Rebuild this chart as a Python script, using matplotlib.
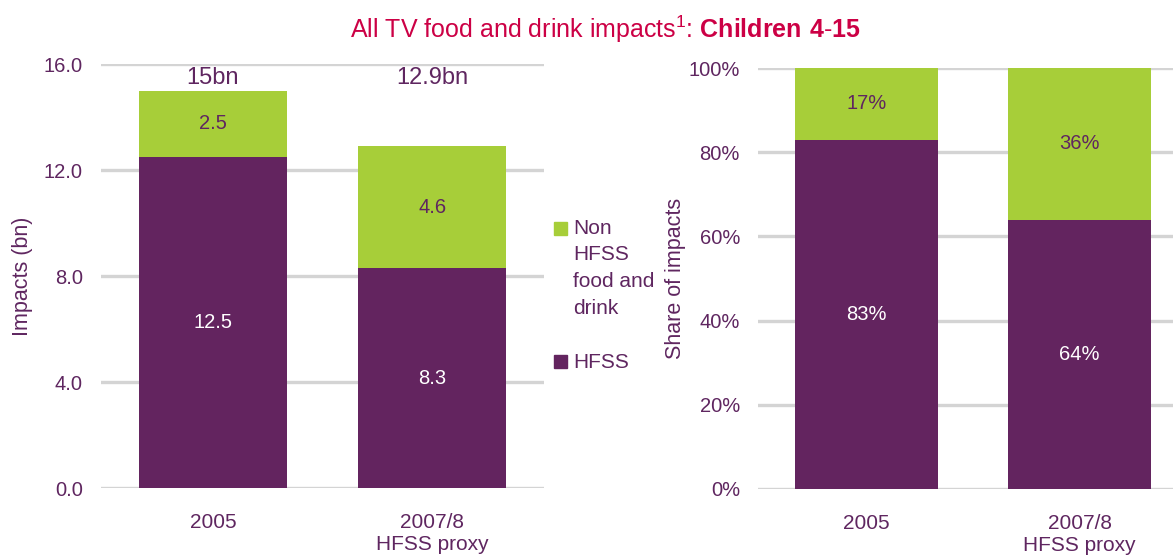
import matplotlib.pyplot as plt
from matplotlib.patches import Rectangle
import numpy as np

plt.rcParams['font.family'] = ['Liberation Sans', 'DejaVu Sans']
plt.rcParams['mathtext.fontset'] = 'custom'
plt.rcParams['mathtext.rm'] = 'Liberation Sans'
plt.rcParams['mathtext.bf'] = 'Liberation Sans:bold'

categories = ['2005', '2007/8\nHFSS proxy']
hfss = [12.5, 8.3]
non_hfss = [2.5, 4.6]
totals = ['15bn', '12.9bn']
share_hfss = [0.83, 0.64]
share_non = [0.17, 0.36]

purple = '#63245F'
green = '#A7CE39'
text_col = '#5F2660'
title_col = '#CC0045'
grid_col = '#D4D4D4'

fig = plt.figure(figsize=(11.73, 5.56), dpi=100)

W, H = 1173.0, 556.0
ax1 = fig.add_axes([101 / W, 1 - 488 / H, 443 / W, 424 / H])
ax2 = fig.add_axes([758 / W, 1 - 489 / H, 430 / W, 421 / H])

x = np.arange(len(categories))

# left: absolute impacts
ax1.bar(x, hfss, width=0.676, color=purple, zorder=3)
ax1.bar(x, non_hfss, width=0.676, bottom=hfss, color=green, zorder=3)
for i in range(len(x)):
    ax1.text(x[i], hfss[i] / 2, '%.1f' % hfss[i], ha='center', va='center',
             color='white', fontsize=14.5, zorder=4)
    ax1.text(x[i], hfss[i] + non_hfss[i] / 2, '%.1f' % non_hfss[i], ha='center',
             va='center', color=text_col, fontsize=14.5, zorder=4)
    ax1.text(x[i], 15.47, totals[i], ha='center', va='center', color=text_col,
             fontsize=17, zorder=4)
ax1.set_ylim(0, 16)
ax1.set_xlim(-0.51, 1.51)
ax1.set_yticks([0, 4, 8, 12, 16])
ax1.set_yticklabels(['%.1f' % v for v in [0, 4, 8, 12, 16]])
ax1.set_ylabel('Impacts (bn)', fontsize=15.5, color=text_col, labelpad=8)

# right: share of impacts
ax2.bar(x, share_hfss, width=0.67, color=purple, zorder=3)
ax2.bar(x, share_non, width=0.67, bottom=share_hfss, color=green, zorder=3)
for i in range(len(x)):
    ax2.text(x[i], share_hfss[i] / 2, '%d%%' % round(share_hfss[i] * 100),
             ha='center', va='center', color='white', fontsize=14.5, zorder=4)
    ax2.text(x[i], share_hfss[i] + share_non[i] / 2, '%d%%' % round(share_non[i] * 100),
             ha='center', va='center', color=text_col, fontsize=14.5, zorder=4)
ax2.set_ylim(0, 1)
ax2.set_xlim(-0.508, 1.508)
ax2.set_yticks([0, 0.2, 0.4, 0.6, 0.8, 1.0])
ax2.set_yticklabels(['%d%%' % (v * 20) for v in range(6)])
ax2.set_ylabel('Share of impacts', fontsize=15.5, color=text_col, labelpad=2)

for ax in [ax1, ax2]:
    for s in ax.spines.values():
        s.set_visible(False)
    ax.set_axisbelow(True)
    ax.grid(axis='y', color=grid_col, lw=2.4)
    ax.set_xticks(x)
    ax.set_xticklabels(categories)
    ax.tick_params(axis='y', length=0, pad=13, labelsize=14.5, labelcolor=text_col)
    ax.tick_params(axis='x', length=0, pad=18, labelsize=15, labelcolor=text_col)

# legend drawn by hand between the two panels
fig.patches.append(Rectangle((554 / W, 1 - 235 / H), 13 / W, 13 / H,
                             transform=fig.transFigure, color=green))
fig.patches.append(Rectangle((554 / W, 1 - 368 / H), 13 / W, 13 / H,
                             transform=fig.transFigure, color=purple))
fig.text(573 / W, 1 - 219 / H, 'Non\nHFSS\nfood and\ndrink', ha='left',
         va='top', fontsize=15, color=text_col, linespacing=1.5,
         transform=fig.transFigure)
fig.text(573 / W, 1 - 362 / H, 'HFSS', ha='left', va='center', fontsize=15,
         color=text_col)

fig.text(605 / W, 1 - 29 / H,
         r'All TV food and drink impacts$^{\mathregular{1}}$: $\mathbf{Children\ 4\text{-}15}$',
         ha='center', va='center', fontsize=18, color=title_col)

fig.savefig('out.png', dpi=100)
